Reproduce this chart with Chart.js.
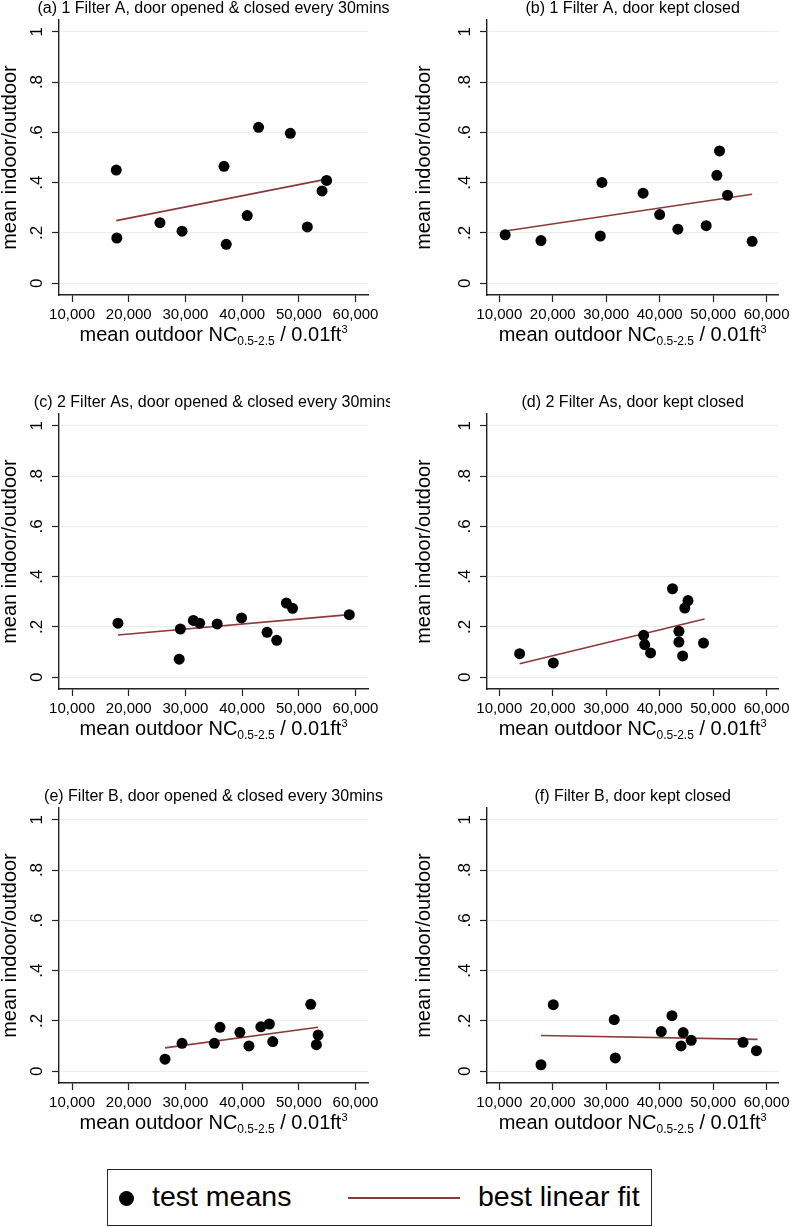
<!DOCTYPE html>
<html>
<head>
<meta charset="utf-8">
<script src="https://cdn.jsdelivr.net/npm/chart.js@4/dist/chart.umd.min.js"></script>
<style>
  body { margin: 0; background: #fff; width: 794px; height: 1227px; position: relative; overflow: hidden;
         font-family: 'Liberation Sans', Arial, Helvetica, sans-serif; color: #000; }
  canvas { position: absolute; }
  .lg { position: absolute; }
  #lgBox { left: 107px; top: 1169px; width: 545px; height: 57px; box-sizing: border-box; border: 1.5px solid #222; }
  #lgDot { left: 118.5px; top: 1190.5px; width: 15px; height: 15px; border-radius: 50%; background: #000; }
  #lgLine { left: 348px; top: 1197px; width: 112px; height: 2px; background: #8b3a3a; }
  .lgTxt { font-size: 28.5px; line-height: 29px; top: 1182px; white-space: nowrap; }
</style>
</head>
<body>
<canvas id="pa" width="390" height="350" style="left:0;top:0"></canvas>
<canvas id="pb" width="380" height="350" style="left:414px;top:0"></canvas>
<canvas id="pc" width="390" height="350" style="left:0;top:394px"></canvas>
<canvas id="pd" width="380" height="350" style="left:414px;top:394px"></canvas>
<canvas id="pe" width="390" height="350" style="left:0;top:788px"></canvas>
<canvas id="pf" width="380" height="350" style="left:414px;top:788px"></canvas>

<div class="lg" id="lgBox"></div>
<div class="lg" id="lgDot"></div>
<div class="lg lgTxt" style="left:152px">test means</div>
<div class="lg" id="lgLine"></div>
<div class="lg lgTxt" style="left:478px">best linear fit</div>

<script>
// ticks
const xTicks = [10000, 20000, 30000, 40000, 50000, 60000];
const yTicks = [0, 0.2, 0.4, 0.6, 0.8, 1];
const yTickLabels = ['0', '.2', '.4', '.6', '.8', '1'];

// (a) 1 Filter A, door opened & closed every 30mins
const aX = [17800, 17900, 25500, 29400, 36800, 37200, 40900, 42900, 48500, 51500, 54100, 54900];
const aY = [0.450, 0.180, 0.241, 0.207, 0.465, 0.155, 0.269, 0.620, 0.596, 0.224, 0.367, 0.409];
const aFitX = [17800, 54900];
const aFitY = [0.249, 0.414];

// (b) 1 Filter A, door kept closed
const bX = [11100, 17800, 28900, 29200, 36900, 40000, 43400, 48700, 50700, 51200, 52700, 57300];
const bY = [0.193, 0.170, 0.188, 0.401, 0.358, 0.273, 0.215, 0.229, 0.429, 0.526, 0.350, 0.167];
const bFitX = [11100, 57300];
const bFitY = [0.208, 0.354];

// (c) 2 Filter As, door opened & closed every 30mins
const cX = [18100, 29100, 28900, 31400, 32500, 35600, 39900, 44400, 46100, 47800, 48900, 58900];
const cY = [0.215, 0.192, 0.072, 0.226, 0.215, 0.212, 0.236, 0.179, 0.147, 0.295, 0.274, 0.249];
const cFitX = [18100, 58900];
const cFitY = [0.168, 0.249];

// (d) 2 Filter As, door kept closed
const dX = [13800, 20100, 37000, 37200, 38300, 42400, 43600, 43600, 44300, 44700, 45300, 48200];
const dY = [0.094, 0.057, 0.167, 0.130, 0.097, 0.352, 0.183, 0.140, 0.085, 0.275, 0.305, 0.136];
const dFitX = [13800, 48400];
const dFitY = [0.054, 0.232];

// (e) Filter B, door opened & closed every 30mins
const eX = [26400, 29400, 35100, 36100, 39600, 41200, 43300, 44800, 45400, 52100, 53400, 53100];
const eY = [0.048, 0.111, 0.111, 0.175, 0.155, 0.101, 0.177, 0.188, 0.118, 0.266, 0.144, 0.106];
const eFitX = [26400, 53400];
const eFitY = [0.093, 0.175];

// (f) Filter B, door kept closed
const fX = [17800, 20100, 31500, 31700, 40300, 42300, 44000, 44400, 45900, 55600, 58100];
const fY = [0.026, 0.265, 0.205, 0.053, 0.158, 0.221, 0.101, 0.154, 0.123, 0.115, 0.082];
const fFitX = [17800, 58300];
const fFitY = [0.142, 0.127];

const titles = [
  '(a) 1 Filter A, door opened & closed every 30mins',
  '(b) 1 Filter A, door kept closed',
  '(c) 2 Filter As, door opened & closed every 30mins',
  '(d) 2 Filter As, door kept closed',
  '(e) Filter B, door opened & closed every 30mins',
  '(f) Filter B, door kept closed'
];

const FAM = "'Liberation Sans', Arial, Helvetica, sans-serif";
Chart.defaults.font.family = FAM;
Chart.defaults.color = '#000';

// panel title centred over the plot + x axis title with sub/superscript
const panelText = {
  id: 'panelText',
  afterDraw(chart, args, opts) {
    const ctx = chart.ctx, a = chart.chartArea;
    const cx = (a.left + a.right) / 2;
    ctx.save();
    ctx.fillStyle = '#000';
    ctx.textBaseline = 'alphabetic';
    ctx.textAlign = 'center';
    ctx.font = '16px ' + FAM;
    ctx.fillText(opts.title, cx, a.top - 7);

    const parts = [
      { t: 'mean outdoor NC', s: 20, dy: 0 },
      { t: '0.5-2.5', s: 12, dy: 4 },
      { t: ' / 0.01ft', s: 20, dy: 0 },
      { t: '3', s: 11, dy: -8 }
    ];
    ctx.textAlign = 'left';
    let w = 0;
    parts.forEach(p => { ctx.font = p.s + 'px ' + FAM; p.w = ctx.measureText(p.t).width; w += p.w; });
    let x = cx - w / 2;
    const y = a.bottom + 46;
    parts.forEach(p => { ctx.font = p.s + 'px ' + FAM; ctx.fillText(p.t, x, y + p.dy); x += p.w; });
    ctx.restore();
  }
};

function makePanel(id, xs, ys, fitX, fitY, title, axisW, padRight) {
  new Chart(document.getElementById(id), {
    type: 'scatter',
    data: {
      datasets: [{
        data: xs.map((x, i) => ({ x: x, y: ys[i] })),
        backgroundColor: '#000',
        borderWidth: 0,
        pointRadius: 5.5,
        pointHoverRadius: 5.5
      }, {
        data: fitX.map((x, i) => ({ x: x, y: fitY[i] })),
        showLine: true,
        borderColor: '#8b3a3a',
        borderWidth: 1.6,
        pointRadius: 0,
        fill: false
      }]
    },
    options: {
      responsive: false,
      animation: false,
      events: [],
      layout: { padding: { left: 0, right: padRight, top: 20, bottom: 0 } },
      plugins: {
        legend: { display: false },
        tooltip: { enabled: false },
        panelText: { title: title }
      },
      scales: {
        x: {
          type: 'linear',
          min: 7700,
          max: 62200,
          afterBuildTicks: s => { s.ticks = xTicks.map(v => ({ value: v })); },
          afterFit: s => { s.height = 55; },
          ticks: {
            font: { size: 15 },
            padding: 4,
            autoSkip: false,
            maxRotation: 0,
            callback: v => v.toLocaleString('en-US')
          },
          grid: { drawOnChartArea: false, tickLength: 7, tickColor: '#222', tickWidth: 1.2 },
          border: { color: '#222', width: 1.4 }
        },
        y: {
          type: 'linear',
          min: -0.0465,
          max: 1.0465,
          afterBuildTicks: s => { s.ticks = yTicks.map(v => ({ value: v })); },
          afterFit: s => { s.width = axisW; },
          ticks: {
            font: { size: 17 },
            padding: 8,
            minRotation: 90,
            maxRotation: 90,
            crossAlign: 'center',
            autoSkip: false,
            callback: (v, i) => yTickLabels[i]
          },
          grid: { color: '#e6eef0', lineWidth: 1, tickLength: 7, tickColor: '#222', tickWidth: 1.2 },
          border: { color: '#222', width: 1.4 },
          title: {
            display: true,
            text: 'mean indoor/outdoor',
            font: { size: 20, lineHeight: 1 },
            padding: 0,
            color: '#000'
          }
        }
      }
    },
    plugins: [panelText]
  });
}

makePanel('pa', aX, aY, aFitX, aFitY, titles[0], 59, 22);
makePanel('pb', bX, bY, bFitX, bFitY, titles[1], 73, 12);
makePanel('pc', cX, cY, cFitX, cFitY, titles[2], 59, 22);
makePanel('pd', dX, dY, dFitX, dFitY, titles[3], 73, 12);
makePanel('pe', eX, eY, eFitX, eFitY, titles[4], 59, 22);
makePanel('pf', fX, fY, fFitX, fFitY, titles[5], 73, 12);
</script>
</body>
</html>
